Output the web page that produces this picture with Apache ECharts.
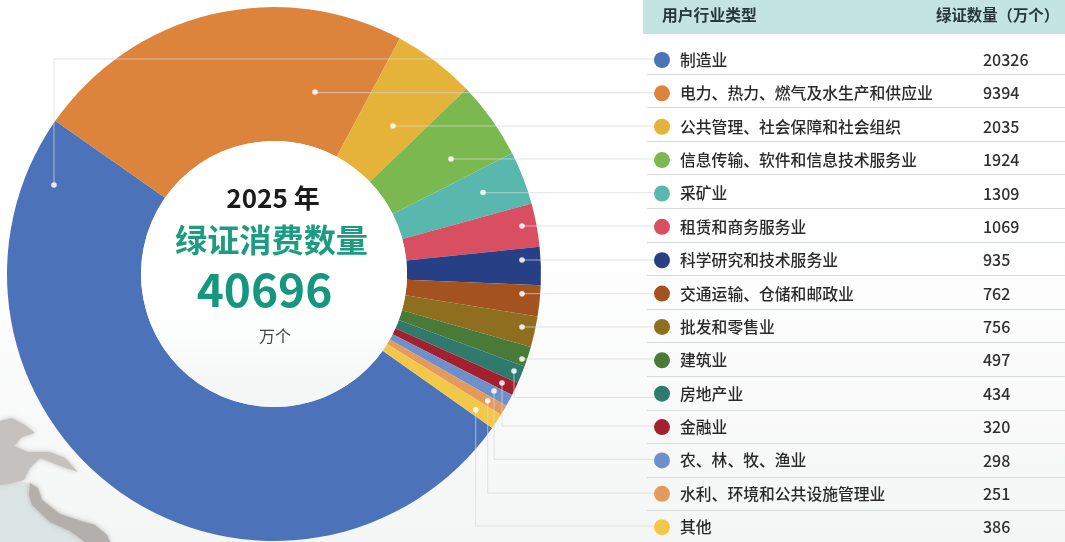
<!DOCTYPE html>
<html><head><meta charset="utf-8">
<style>html,body{margin:0;padding:0;background:#fff}#c{width:1065px;height:542px}</style>
<script src="https://cdn.jsdelivr.net/npm/echarts@6/dist/echarts.min.js"></script>
</head><body><div id="c"></div>
<script>
const categories = ['制造业','电力、热力、燃气及水生产和供应业','公共管理、社会保障和社会组织','信息传输、软件和信息技术服务业','采矿业','租赁和商务服务业','科学研究和技术服务业','交通运输、仓储和邮政业','批发和零售业','建筑业','房地产业','金融业','农、林、牧、渔业','水利、环境和公共设施管理业','其他'];
const values = [20326,9394,2035,1924,1309,1069,935,762,756,497,434,320,298,251,386];
const colors = ['#4c72b9','#dc833c','#e5b23a','#7bb84f','#58b8ae','#d84f62','#263f85','#a4521f','#8f6e1f','#4a7a38','#2f7a6c','#a3202f','#6f8fcb','#e49a5d','#f3c84a'];
const headers = ['用户行业类型','绿证数量（万个）'];
const centerTexts = ['2025 年','绿证消费数量','40696','万个'];

// annotation geometry (leader lines from a slice to its table row)
const leaders = [[54,185,59],[315,92,92.7],[393,126,126],[451,159,159],[483,192.5,192.7],[522,226,226],[522,260,260],[522,293.7,293.7],[522,327,327],[522,359,359],[514,371,397.5],[502,383,426],[494,391,459.3],[487.7,400.7,493],[475.7,409.7,526]];

const ff = '"Noto Sans CJK SC","Noto Sans",sans-serif';
const g = [];
g.push({type:'rect',z:-10,silent:true,shape:{x:0,y:0,width:1065,height:542},style:{fill:new echarts.graphic.LinearGradient(0,0,0,1,[{offset:0,color:'#ffffff'},{offset:0.4,color:'#ffffff'},{offset:1,color:'#f4f6f5'}])}});
// decorative map corner
const mapBlur = {shadowBlur:5};
g.push({type:'polygon',z:-9,silent:true,shape:{points:[[0,485],[20,482],[31,483],[33,500],[60,520],[78,530],[100,532],[112,542],[0,542]]},style:{fill:'#dde5e4'}});
g.push({type:'polygon',z:-8,silent:true,shape:{points:[[30,483],[38,488],[42,500],[60,514],[78,520],[95,525],[107,535],[110,542],[85,542],[70,531],[50,522],[32,505],[29,495]]},style:{fill:'#b3afad',shadowColor:'#b3afad',...mapBlur}});
g.push({type:'polygon',z:-8,silent:true,shape:{points:[[0,421],[12,418],[25,425],[35,433],[22,437],[14,446],[28,452],[50,452],[65,458],[78,472],[60,466],[40,458],[30,468],[24,480],[8,484],[0,485]]},style:{fill:'#c4c1bf',shadowColor:'#c4c1bf',...mapBlur}});
// inner disc
g.push({type:'circle',z:5,silent:true,shape:{cx:274,cy:274,r:133},style:{fill:new echarts.graphic.LinearGradient(0,0,0,1,[{offset:0,color:'#ffffff'},{offset:0.6,color:'#ffffff'},{offset:1,color:'#f3f6f5'}])}});
// table header
g.push({type:'rect',z:1,silent:true,shape:{x:643,y:0,width:422,height:34},style:{fill:'#c4e4e1'}});
g.push({type:'text',z:6,silent:true,style:{x:662,y:15,text:headers[0],font:'bold 15.8px '+ff,fill:'#27383a',textVerticalAlign:'middle'}});
g.push({type:'text',z:6,silent:true,style:{x:936,y:15,text:headers[1],font:'bold 15.4px '+ff,fill:'#27383a',textVerticalAlign:'middle'}});
// row separators
categories.slice(0,-1).forEach((c,i)=>{
  const y=Math.round(73.5+33.6*i)+0.5;
  g.push({type:'line',z:1,silent:true,shape:{x1:647,y1:y,x2:1065,y2:y},style:{stroke:'#d8dbdb',lineWidth:1}});
});
// leader lines + dots
leaders.forEach(([x,y,ry])=>{
  const pts = ry===y ? [[x,y],[655,ry]] : [[x,y],[x,ry],[655,ry]];
  g.push({type:'polyline',z:4,silent:true,shape:{points:pts},style:{stroke:'rgba(214,217,217,0.7)',lineWidth:1,fill:null}});
  g.push({type:'circle',z:6,silent:true,shape:{cx:x,cy:y,r:2.8},style:{fill:'rgba(255,255,255,0.85)'}});
});
// centre text
const ct = (t,x,y,font,fill)=>g.push({type:'text',z:6,silent:true,style:{x,y,text:t,font:font,fill,textAlign:'center',textVerticalAlign:'middle'}});
ct(centerTexts[0],273,198,'bold 26px '+ff,'#1c1c1c');
ct(centerTexts[1],271.5,240,'bold 32.2px '+ff,'#1d9c80');
ct(centerTexts[2],264.5,290,'bold 46px '+ff,'#14977c');
ct(centerTexts[3],275,336,'16px '+ff,'#444');

const chart = echarts.init(document.getElementById('c'));
chart.setOption({
  animation:false,
  color:colors,
  graphic:{elements:g},
  legend:{
    orient:'vertical',left:654,top:52,itemWidth:16,itemHeight:16,itemGap:17.37,padding:0,
    icon:'circle',selectedMode:false,data:categories,
    formatter:n=>`{n|${n}}{v|${values[categories.indexOf(n)]}}`,
    textStyle:{rich:{
      n:{width:303,padding:[0,0,0,5],fontFamily:ff,fontWeight:500,fontSize:15.8,color:'#2a2a2a',lineHeight:20},
      v:{fontFamily:ff,fontWeight:500,fontSize:16,color:'#2f2f2f',lineHeight:20}
    }}
  },
  series:[{
    type:'pie',silent:true,center:[274,274],radius:[133,267],startAngle:-35.2,clockwise:true,
    label:{show:false},labelLine:{show:false},
    data:categories.map((name,i)=>({name,value:values[i]}))
  }]
});
</script></body></html>
